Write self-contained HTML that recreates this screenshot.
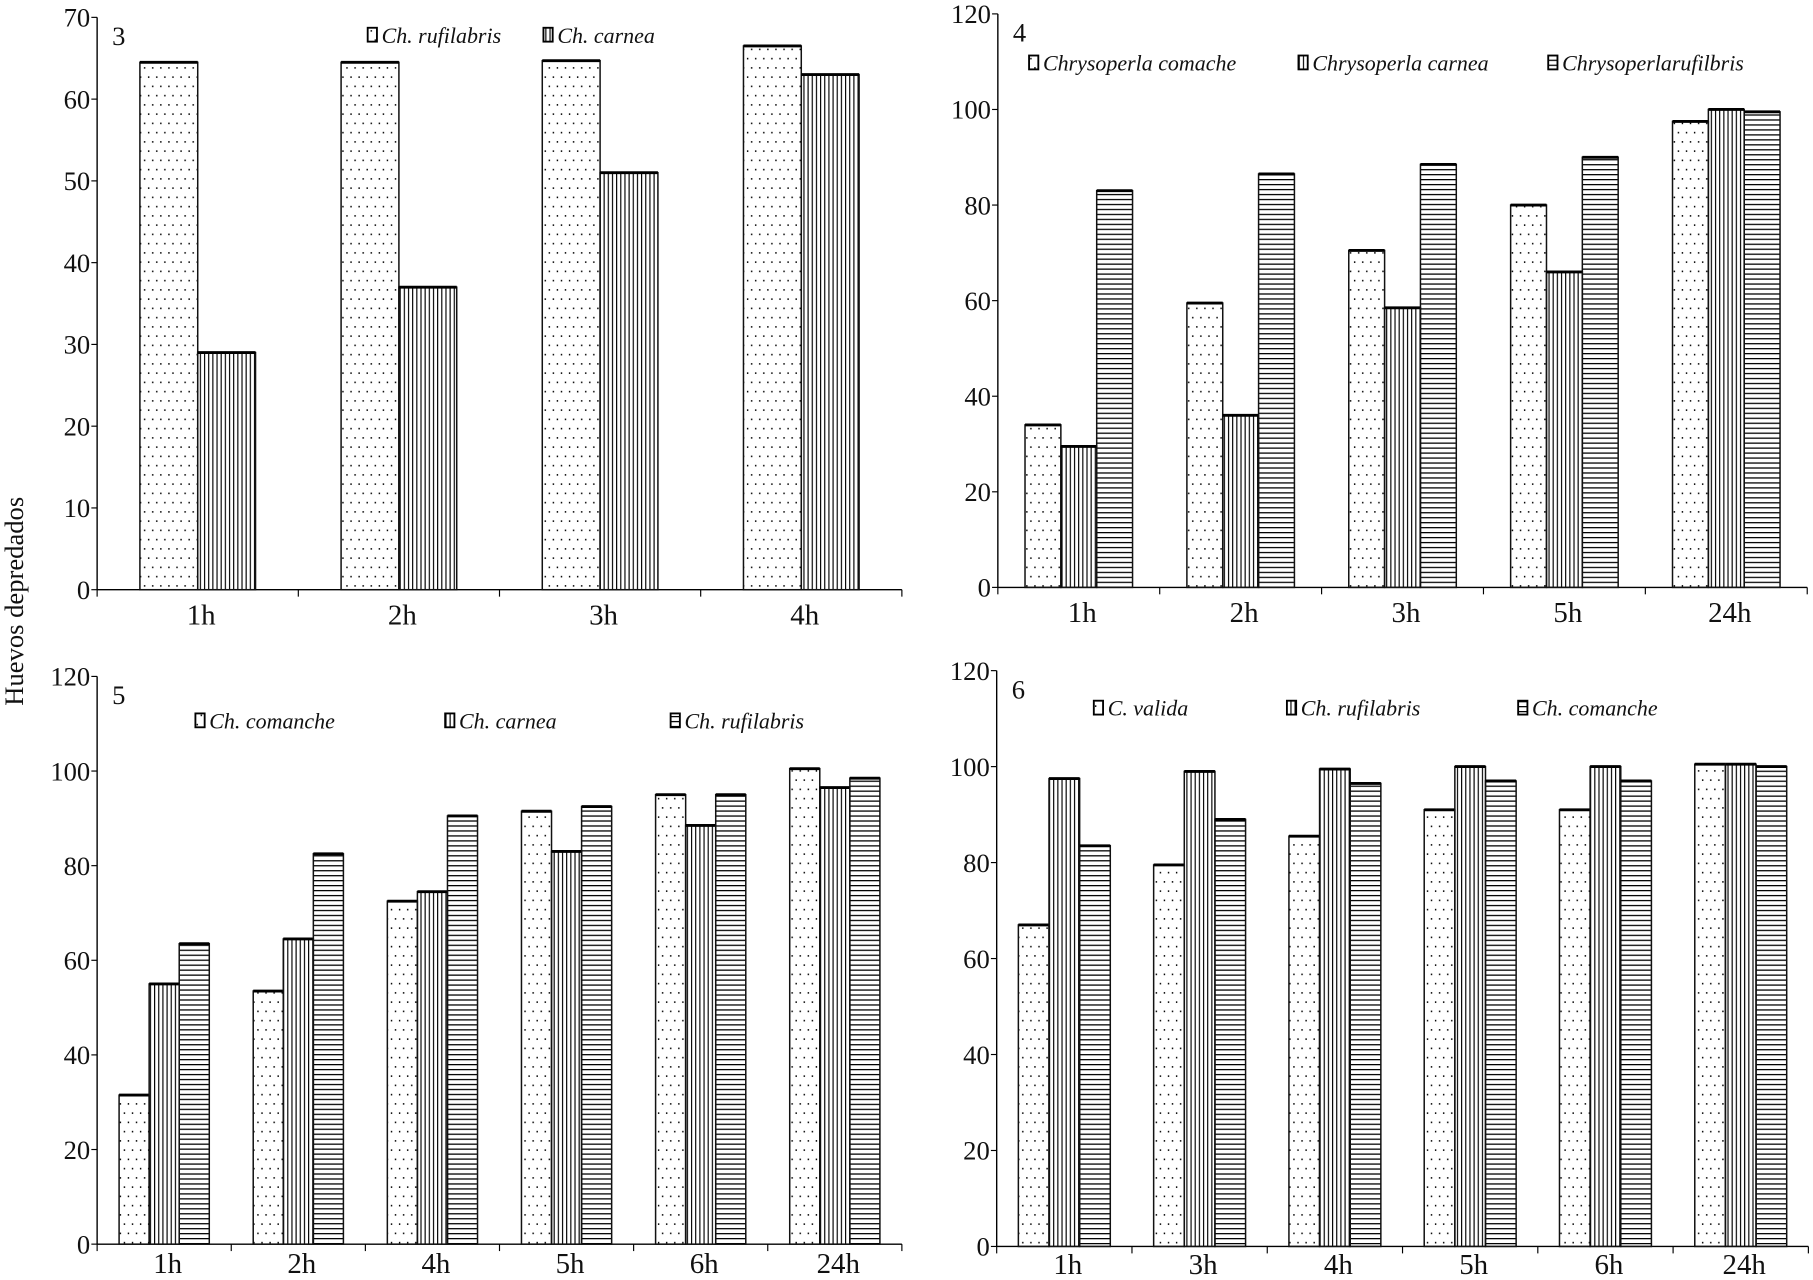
<!DOCTYPE html>
<html><head><meta charset="utf-8"><style>
html,body{margin:0;padding:0;background:#fff}
svg{display:block}
text{font-family:"Liberation Serif",serif;fill:#111}
</style></head><body>
<svg id="root" width="1813" height="1280" viewBox="0 0 1568 1107" xmlns="http://www.w3.org/2000/svg">
<defs>
<pattern id="dots" width="7" height="16" patternUnits="userSpaceOnUse"><rect x="2" y="2" width="1.2" height="1.4" fill="#000"/><rect x="5.5" y="10" width="1.2" height="1.4" fill="#000"/></pattern>
<pattern id="vl" width="3.6" height="10" patternUnits="userSpaceOnUse"><rect x="0" y="0" width="1" height="10" fill="#000"/></pattern>
<pattern id="hl" width="10" height="4.3" patternUnits="userSpaceOnUse"><rect x="0" y="0" width="10" height="1.1" fill="#000"/></pattern>
</defs>
<text transform="translate(20,520) rotate(-90)" text-anchor="middle" font-size="23">Huevos depredados</text>
</svg>
<script>
// Panel 3
const cats3=["1h","2h","3h","4h"];
const ruf3=[64.5,64.5,64.7,66.5];
const car3=[29,37,51,63];
const ticks3=[0,10,20,30,40,50,60,70];
// Panel 4
const cats4=["1h","2h","3h","5h","24h"];
const com4=[34,59.5,70.5,80,97.5];
const car4=[29.5,36,58.5,66,100];
const ruf4=[83,86.5,88.5,90,99.5];
const ticks4=[0,20,40,60,80,100,120];
// Panel 5
const cats5=["1h","2h","4h","5h","6h","24h"];
const com5=[31.5,53.5,72.5,91.5,95,100.5];
const car5=[55,64.5,74.5,83,88.5,96.5];
const ruf5=[63.5,82.5,90.5,92.5,95,98.5];
const ticks5=[0,20,40,60,80,100,120];
// Panel 6
const cats6=["1h","3h","4h","5h","6h","24h"];
const val6=[67,79.5,85.5,91,91,100.5];
const ruf6=[97.5,99,99.5,100,100,100.5];
const com6=[83.5,89,96.5,97,97,100];
const ticks6=[0,20,40,60,80,100,120];

const NS="http://www.w3.org/2000/svg";
const root=document.getElementById('root');
function mk(tag,attrs,parent,txt){const e=document.createElementNS(NS,tag);for(const k in attrs)e.setAttribute(k,attrs[k]);if(txt!==undefined)e.textContent=txt;(parent||root).appendChild(e);return e;}

function panel(p){
  const g=mk('g',{});
  
  
  const ymax=p.ticks[p.ticks.length-1];
  const Y=v=>p.y0-(v/ymax)*(p.y0-p.ytop);
  const n=p.cats.length;
  const cw=(p.xend-p.x0)/n;
  const X=i=>p.x0+cw*i;
  const ya=mk('line',{x1:p.x0,y1:p.ytop,x2:p.x0,y2:p.y0,stroke:'#000','stroke-width':1.2},g);
  
  const xa=mk('line',{x1:p.x0,y1:p.y0,x2:p.xend,y2:p.y0,stroke:'#000','stroke-width':1.2},g);
  
  p.ticks.forEach(t=>{
    mk('line',{x1:p.x0-5,y1:Y(t),x2:p.x0,y2:Y(t),stroke:'#000','stroke-width':1},g);
    const tl=mk('text',{x:p.x0-6,y:Y(t)+8,'text-anchor':'end','font-size':23},g,String(t));
    
  });
  for(let i=0;i<=n;i++) mk('line',{x1:X(i),y1:p.y0,x2:X(i),y2:p.y0+6,stroke:'#000','stroke-width':1},g);
  p.cats.forEach((c,i)=>{
    const tl=mk('text',{x:X(i)+cw/2+3,y:p.y0+p.xlo,'text-anchor':'middle','font-size':25},g,c);
    
  });
  const ns=p.series.length;
  p.series.forEach((s,si)=>{
    s.vals.forEach((v,i)=>{
      const bx=X(i)+cw/2-ns*p.bw/2+si*p.bw;
      const r=mk('rect',{x:bx,y:Y(v),width:p.bw,height:p.y0-Y(v),fill:'url(#'+s.pat+')',stroke:'#111','stroke-width':1.3},g);
      
      
      mk('line',{x1:bx,y1:Y(v),x2:bx+p.bw,y2:Y(v),stroke:'#000','stroke-width':2.5},g);
    });
    const lx=p.leg[si];
    const lb=mk('rect',{x:lx,y:p.legy-8,width:8,height:12,fill:'url(#'+s.pat+')',stroke:'#000','stroke-width':1.6},g);
    
    const lt=mk('text',{x:lx+12,y:p.legy+5,'font-size':p.lfs,'font-style':'italic'},g,s.name);
    
  });
  const pn=mk('text',{x:p.x0+13,y:p.ytop+24,'font-size':23},g,p.id);
  
}

panel({id:'3',cats:cats3,ticks:ticks3,x0:84,xend:780,y0:510,ytop:15,bw:50,lfs:19,legy:32,xlo:30,leg:[318,470],
  series:[{key:'rufilabris',name:'Ch. rufilabris',vals:ruf3,pat:'dots'},{key:'carnea',name:'Ch. carnea',vals:car3,pat:'vl'}]});
panel({id:'4',cats:cats4,ticks:ticks4,x0:863,xend:1563,y0:508,ytop:12,bw:31,lfs:19,legy:56,xlo:30,leg:[890,1123,1339],
  series:[{key:'comache',name:'Chrysoperla comache',vals:com4,pat:'dots'},{key:'carnea',name:'Chrysoperla carnea',vals:car4,pat:'vl'},{key:'rufilbris',name:'Chrysoperlarufilbris',vals:ruf4,pat:'hl'}]});
panel({id:'5',cats:cats5,ticks:ticks5,x0:84,xend:780,y0:1076,ytop:585,bw:26,lfs:19,legy:625,xlo:25,leg:[169,385,580],
  series:[{key:'comanche',name:'Ch. comanche',vals:com5,pat:'dots'},{key:'carnea',name:'Ch. carnea',vals:car5,pat:'vl'},{key:'rufilabris',name:'Ch. rufilabris',vals:ruf5,pat:'hl'}]});
panel({id:'6',cats:cats6,ticks:ticks6,x0:862,xend:1564,y0:1078,ytop:580,bw:26.5,lfs:19,legy:614,xlo:24,leg:[946,1113,1313],
  series:[{key:'valida',name:'C. valida',vals:val6,pat:'dots'},{key:'rufilabris',name:'Ch. rufilabris',vals:ruf6,pat:'vl'},{key:'comanche',name:'Ch. comanche',vals:com6,pat:'hl'}]});
</script>
</body></html>
